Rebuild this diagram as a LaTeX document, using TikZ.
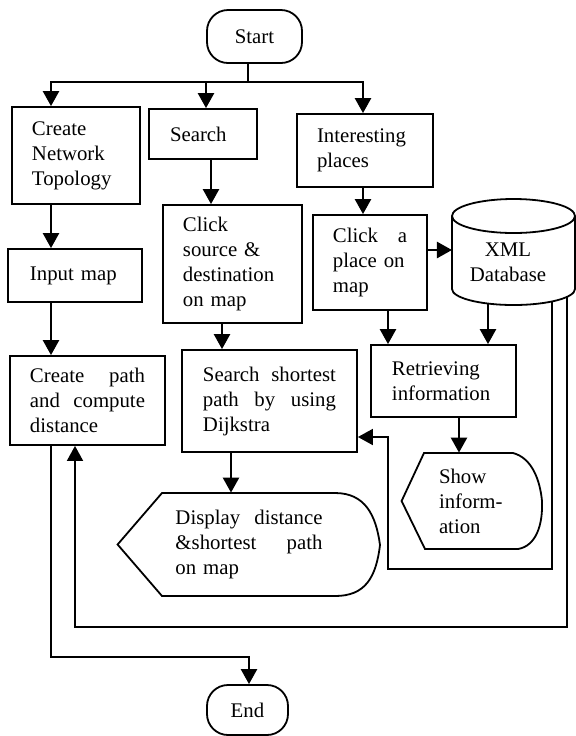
\documentclass[tikz,border=0pt]{standalone}
\usepackage{fontspec}
\setmainfont{Liberation Serif}
\usetikzlibrary{arrows.meta}
\begin{document}
\begin{tikzpicture}[x=0.5pt,y=-0.5pt,
  every node/.style={font=\fontsize{10.4}{12.5}\selectfont},
  box/.style={draw, line width=0.9pt, rectangle, inner sep=0pt, align=left},
  term/.style={box, rounded corners=10.5pt, align=center},
  plain/.style={inner sep=0pt, align=left},
  shapeline/.style={draw, line width=0.9pt},
  arr/.style={line width=1.2pt, -{Triangle[length=7.5pt,width=8pt]}},
  looparr/.style={line width=0.9pt, -{Triangle[length=7.5pt,width=8pt]}}]

\useasboundingbox (0,0) rectangle (575,736);

% terminals
\node[term, minimum width=47.5pt, minimum height=26.5pt] (start) at (254.5,36.5) {Start};
\node[term, minimum width=40.5pt, minimum height=25pt] (finish) at (247.5,710) {End};

% process boxes
\node[box, minimum width=64pt, minimum height=48.5pt, text width=44pt] (cnt) at (76,155.5) {Create\\Network\\Topology};
\node[box, minimum width=54pt, minimum height=25pt, text width=33pt] (search) at (203,134) {Search};
\node[box, minimum width=68pt, minimum height=36.5pt, text width=48pt] (interest) at (365,150.5) {Interesting\\places};
\node[box, minimum width=69.5pt, minimum height=59pt, text width=49.5pt] (clicksd) at (232.5,264) {Click\\source \&\\destination\\on map};
\node[box, minimum width=57pt, minimum height=47.5pt, text width=37pt] (clickp) at (370,262.5) {Click\hfill a\\place on\\map};
\node[box, minimum width=67pt, minimum height=26.5pt, text width=45pt] (input) at (75,275.5) {Input map};
\node[box, minimum width=77.5pt, minimum height=44.5pt, text width=57.5pt] (cp) at (87.5,400.5) {Create\hfill path\\and\hfill compute\\distance};
\node[box, minimum width=87.5pt, minimum height=51pt, text width=66.5pt] (sp) at (269.5,401) {Search\hfill shortest\\path\hfill by\hfill using\\Dijkstra};
\node[box, minimum width=72.5pt, minimum height=36pt, text width=51.5pt] (ret) at (443.5,381) {Retrieving\\information};

% display symbols
\node[plain, minimum width=131pt, minimum height=51.5pt, text width=73.5pt] (disp) at (249,544.5) {Display\hfill distance\\\&shortest\hfill path\\on map};
\draw[shapeline] (disp.west) -- (162,493) -- (335,493)
  .. controls (365,493) and (376,515) .. (380,545)
  .. controls (376,578) and (365,596) .. (335,596) -- (162,596) -- cycle;

\node[plain, minimum width=70pt, minimum height=48pt, text width=33pt] (show) at (472,501) {Show\\inform-\\ation};
\draw[shapeline] (show.west) -- (424,453) -- (513,453)
  .. controls (532,458) and (540,480) .. (542,501)
  .. controls (543,525) and (536,546) .. (518,549) -- (425,549) -- cycle;

% database cylinder
\node[plain, align=center] (xml) at (508,262.5) {XML\\Database};
\draw[shapeline] (513.5,216) ellipse[x radius=61.5, y radius=17];
\draw[shapeline] (452,216) -- (452,289)
  .. controls (452,297.8) and (479.5,305) .. (513.5,305)
  .. controls (547.5,305) and (575,297.8) .. (575,289) -- (575,216);
\coordinate (xmlw) at (452,250);
\coordinate (xmlb0) at (488,303.6);
\coordinate (xmlb1) at (552,301.5);
\coordinate (xmlb2) at (567,296.9);

% connectors
\coordinate (split) at (248,82);
\draw[line width=1.2pt] (start.south -| 248,0) -- (split);
\draw[arr] (split) -| (cnt.north -| 51,0);
\draw[arr] (split) -| (search.north -| 206,0);
\draw[arr] (split) -| (interest.north -| 363,0);
\draw[arr] (search.south -| 211,0) -- (clicksd.north -| 211,0);
\draw[arr] (interest.south -| 363,0) -- (clickp.north -| 363,0);
\draw[arr] (cnt.south -| 51,0) -- (input.north -| 51,0);
\draw[arr] (input.south -| 51,0) -- (cp.north -| 51,0);
\draw[arr] (clicksd.south -| 222,0) -- (sp.north -| 222,0);
\draw[arr] (clickp.east |- xmlw) -- (xmlw);
\draw[arr] (clickp.south -| 388,0) -- (ret.north -| 388,0);
\draw[arr] (xmlb0) -- (ret.north -| xmlb0);
\draw[arr] (ret.south -| 459,0) -- (show.north -| 459,0);
\draw[arr] (sp.south -| 231,0) -- (disp.north -| 231,0);
\draw[looparr] (xmlb1) |- (388,569) |- (sp.east |- 0,437);
\draw[looparr] (xmlb2) |- (75,627) -- (cp.south -| 75,0);
\draw[arr] (cp.south -| 51,0) |- (249,657) -- (finish.north -| 249,0);
\end{tikzpicture}
\end{document}
